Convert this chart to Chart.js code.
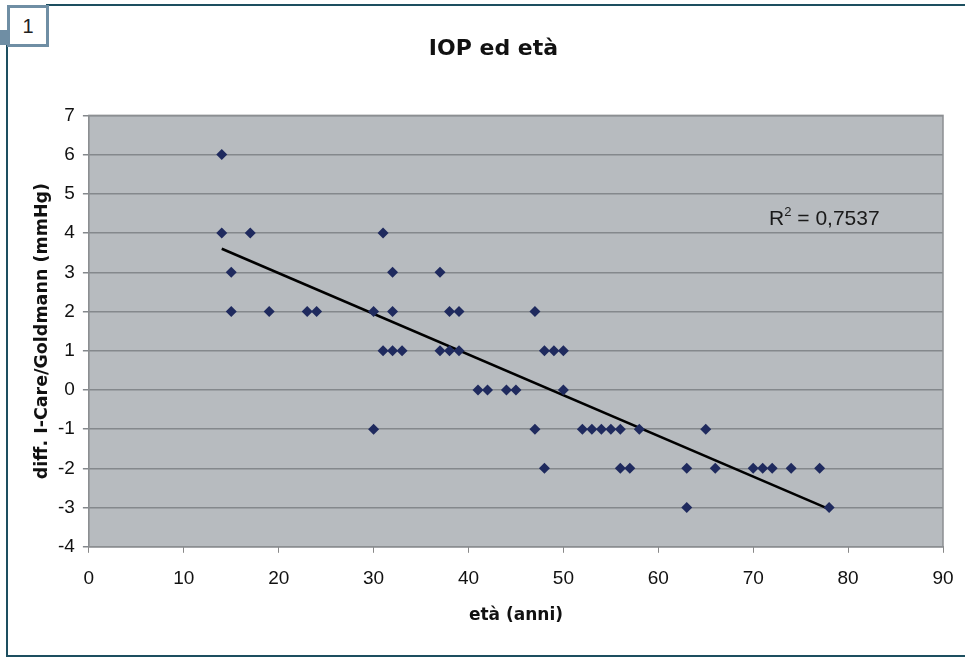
<!DOCTYPE html>
<html>
<head>
<meta charset="utf-8">
<script src="https://cdn.jsdelivr.net/npm/chart.js@4.4.1/dist/chart.umd.min.js"></script>
<style>
  html, body { margin: 0; padding: 0; background: #fff; }
  body { width: 965px; height: 657px; position: relative; overflow: hidden; font-family: "Liberation Sans", Arial, sans-serif; }
  #frameTop { position: absolute; left: 46px; top: 4px; width: 919px; height: 2px; background: #1d4f60; }
  #frameLeft { position: absolute; left: 6px; top: 44px; width: 2px; height: 613px; background: #1d4f60; }
  #frameBottom { position: absolute; left: 6px; top: 655px; width: 959px; height: 2px; background: #1d4f60; }
  #tab { position: absolute; left: 7px; top: 5px; width: 36px; height: 36px; border: 3px solid #6f8ea4; background: #fff;
         font-size: 20px; color: #222; text-align: center; line-height: 36px; }
  #tabStrip { position: absolute; left: 0; top: 30px; width: 7px; height: 15px; background: #6f8ea4; }
  #wrap { position: absolute; left: 0; top: 0; width: 965px; height: 657px; }
</style>
</head>
<body>
<div id="wrap"><canvas id="chart" width="965" height="657"></canvas></div>
<div id="frameTop"></div>
<div id="frameLeft"></div>
<div id="frameBottom"></div>
<div id="tabStrip"></div>
<div id="tab">1</div>
<script>
// dati: età (anni) e differenza I-Care/Goldmann (mmHg)
const eta = [14, 14, 15, 15, 17, 19, 23, 24, 30, 30, 31, 31, 32, 32, 32, 33, 37, 37, 38, 38, 39, 39,
             41, 42, 44, 45, 47, 47, 48, 48, 49, 50, 50, 52, 53, 54, 55, 56, 56, 57, 58, 63, 63, 65,
             66, 70, 71, 72, 74, 77, 78];
const diff = [6, 4, 3, 2, 4, 2, 2, 2, 2, -1, 4, 1, 3, 2, 1, 1, 3, 1, 2, 1, 2, 1,
              0, 0, 0, 0, 2, -1, 1, -2, 1, 1, 0, -1, -1, -1, -1, -1, -2, -2, -1, -2, -3, -1,
              -2, -2, -2, -2, -2, -2, -3];

// linea di tendenza (estremi)
const trendX = [14, 78];
const trendY = [3.6, -3.04];
const r2Text = '0,7537';
const r2Pos = { x: 77.5, y: 4.35 };

const xTicks = [0, 10, 20, 30, 40, 50, 60, 70, 80, 90];
const yTicks = [-4, -3, -2, -1, 0, 1, 2, 3, 4, 5, 6, 7];

const FONT = '"Liberation Sans", Arial, sans-serif';
const BOLD = '"DejaVu Sans", "Liberation Sans", sans-serif';

// sfondo grigio dell'area del grafico + etichetta R²
const plotBg = {
    id: 'plotBg',
    beforeDraw(chart) {
        const a = chart.chartArea;
        const ctx = chart.ctx;
        ctx.save();
        ctx.fillStyle = '#b7bbbf';
        ctx.fillRect(a.left, a.top, a.right - a.left, a.bottom - a.top);
        ctx.restore();
    },
    afterDatasetsDraw(chart) {
        const a = chart.chartArea;
        const ctx = chart.ctx;
        ctx.save();
        ctx.strokeStyle = '#8c8f92';
        ctx.lineWidth = 1.5;
        ctx.strokeRect(a.left, a.top, a.right - a.left, a.bottom - a.top);
        ctx.restore();
    },
    afterDraw(chart) {
        const ctx = chart.ctx;
        const px = chart.scales.x.getPixelForValue(r2Pos.x);
        const py = chart.scales.y.getPixelForValue(r2Pos.y);
        ctx.save();
        ctx.fillStyle = '#1a1a1a';
        ctx.textBaseline = 'middle';
        ctx.font = '21px ' + FONT;
        const rest = ' = ' + r2Text;
        const wR = ctx.measureText('R').width;
        ctx.font = '13px ' + FONT;
        const w2 = ctx.measureText('2').width;
        ctx.font = '21px ' + FONT;
        const total = wR + w2 + ctx.measureText(rest).width;
        let x = px - total / 2;
        ctx.textAlign = 'left';
        ctx.fillText('R', x, py);
        x += wR;
        ctx.font = '13px ' + FONT;
        ctx.fillText('2', x, py - 7);
        x += w2;
        ctx.font = '21px ' + FONT;
        ctx.fillText(rest, x, py);
        ctx.restore();
    }
};

new Chart(document.getElementById('chart'), {
    type: 'scatter',
    data: {
        datasets: [
            {
                label: 'dati',
                data: eta.map((v, i) => ({ x: v, y: diff[i] })),
                pointStyle: 'rectRot',
                pointRadius: 5.5,
                pointHoverRadius: 5.5,
                backgroundColor: '#1f2a5e',
                borderColor: '#1f2a5e',
                borderWidth: 0
            },
            {
                label: 'tendenza',
                type: 'line',
                data: trendX.map((v, i) => ({ x: v, y: trendY[i] })),
                borderColor: '#000',
                borderWidth: 2.5,
                pointRadius: 0,
                fill: false
            }
        ]
    },
    options: {
        responsive: false,
        animation: false,
        layout: { padding: { left: 32, right: 10, top: 36, bottom: 31 } },
        plugins: {
            legend: { display: false },
            tooltip: { enabled: false },
            title: {
                display: true,
                text: 'IOP ed età',
                color: '#111',
                font: { family: BOLD, size: 22, weight: 'bold' },
                padding: { top: 0, bottom: 53 }
            }
        },
        scales: {
            x: {
                type: 'linear',
                min: 0,
                max: 90,
                afterBuildTicks: s => { s.ticks = xTicks.map(v => ({ value: v })); },
                afterFit: s => { s.paddingRight = 22; },
                ticks: { color: '#111', font: { family: FONT, size: 19 }, padding: 15, maxRotation: 0, autoSkip: false },
                grid: { drawOnChartArea: false, color: '#888', tickLength: 6 },
                border: { color: '#888', width: 1 },
                title: {
                    display: true,
                    text: 'età (anni)',
                    color: '#111',
                    font: { family: BOLD, size: 17, weight: 'bold' },
                    padding: { top: 0, bottom: 0 }
                }
            },
            y: {
                type: 'linear',
                min: -4,
                max: 7,
                afterBuildTicks: s => { s.ticks = yTicks.map(v => ({ value: v })); },
                ticks: { color: '#111', font: { family: FONT, size: 19 }, padding: 8, autoSkip: false },
                grid: { color: '#84888c', lineWidth: 1.5, tickLength: 6 },
                border: { color: '#888', width: 1 },
                title: {
                    display: true,
                    text: 'diff. I-Care/Goldmann (mmHg)',
                    color: '#111',
                    font: { family: BOLD, size: 17.5, weight: 'bold' },
                    padding: { top: 0, bottom: -3 }
                }
            }
        }
    },
    plugins: [plotBg]
});
</script>
</body>
</html>
